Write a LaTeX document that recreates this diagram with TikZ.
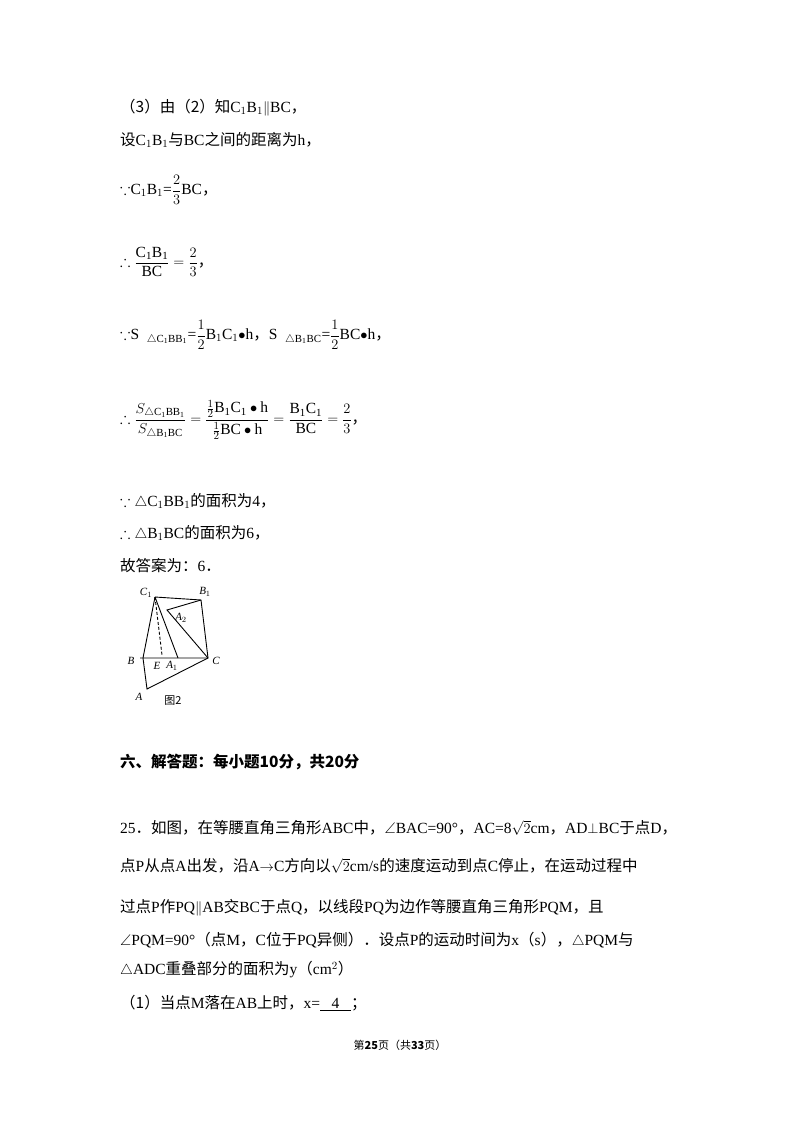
\documentclass[tikz,border=0pt]{standalone}
\usepackage{amssymb}
\usepackage{fontspec}
\setmainfont{Liberation Serif}
\newfontfamily\cjk{Noto Sans CJK SC}
\newcommand{\dou}{{\cjk ，}}
\newcommand{\ju}{{\cjk ．}}
\begin{document}
\begin{tikzpicture}[x=1pt,y=-1pt,
 t/.style={anchor=west,inner sep=0pt,font=\fontsize{15.5}{18}\selectfont},
 lab/.style={inner sep=0pt,font=\fontsize{11}{12}\selectfont\itshape},
 fig/.style={line width=0.9pt}]
\useasboundingbox (0,0) rectangle (800,1132);
\node[t] (l1) at (120,108) {{\cjk（3）由（2）知}C$_1$B$_1$$\|$BC\dou};
\node[t] (l2) at (120,140) {{\cjk 设}C$_1$B$_1${\cjk 与}BC{\cjk 之间的距离为}h\dou};
\node[t] (l3) at (120,190) {$\because$C$_1$B$_1$=$\displaystyle\frac{2}{3}$BC\dou};
\node[t] (l4) at (120,262) {$\displaystyle\therefore\frac{\mathrm{C_1B_1}}{\mathrm{BC}}=\frac{2}{3}$\dou};
\node[t] (l5) at (120,335) {$\because$S\ \ $_{\triangle\mathrm{C_1BB_1}}$=$\displaystyle\frac{1}{2}$B$_1$C$_1$$\bullet$h\dou S\ \ $_{\triangle\mathrm{B_1BC}}$=$\displaystyle\frac{1}{2}$BC$\bullet$h\dou};
\node[t] (l6) at (120,420) {$\displaystyle\therefore\frac{S_{\triangle\mathrm{C_1BB_1}}}{S_{\triangle\mathrm{B_1BC}}}=\frac{\frac12\mathrm{B_1C_1}\bullet\mathrm{h}}{\frac12\mathrm{BC}\bullet\mathrm{h}}=\frac{\mathrm{B_1C_1}}{\mathrm{BC}}=\frac{2}{3}$\dou};
\node[t] (l7) at (120,501) {$\because\triangle$C$_1$BB$_1${\cjk 的面积为}4\dou};
\node[t] (l8) at (120,533) {$\therefore\triangle$B$_1$BC{\cjk 的面积为}6\dou};
\node[t] (l9) at (120,566) {{\cjk 故答案为：}6\ju};
% figure
\coordinate (C1) at (155,597);
\coordinate (B1) at (201,600);
\coordinate (A2) at (167,610);
\coordinate (C) at (208,658);
\coordinate (B) at (140,658);
\coordinate (Bq) at (143,658);
\coordinate (A) at (147,689);
\coordinate (E) at (162,655);
\coordinate (A1) at (178,658);
\draw[fig] (C1)--(B1)--(C)--(B);
\draw[fig] (C1)--(Bq);
\draw[fig] (C1)--(A1);
\draw[fig] (B1)--(A2)--(C);
\draw[fig] (Bq)--(A)--(C);
\draw[fig,densely dashed] (C1)--(E);
\node[lab] (nC1) at (146,593) {C$_1$};
\node[lab] (nB1) at (205,592) {B$_1$};
\node[lab] (nA2) at (181,618) {A$_2$};
\node[lab] (nB) at (131,661) {B};
\node[lab] (nE) at (157,666) {E};
\node[lab] (nA1) at (172,666) {A$_1$};
\node[lab] (nC) at (216,661) {C};
\node[lab] (nA) at (139,697) {A};
\node[inner sep=0pt,font=\fontsize{11}{12}\selectfont\cjk] (cap) at (173,701) {图2};
\node[t] (h6) at (120,762) {\cjk\bfseries 六、解答题：每小题10分，共20分};
\node[t] (p1) at (120,828) {25\ju{\cjk 如图，在等腰直角三角形}ABC{\cjk 中，}$\angle$BAC=90°\dou AC=8$\sqrt{2}$cm\dou AD$\perp$BC{\cjk 于点}D\dou};
\node[t] (p2) at (120,866) {{\cjk 点}P{\cjk 从点}A{\cjk 出发，沿}A$\to$C{\cjk 方向以}$\sqrt{2}$cm/s{\cjk 的速度运动到点}C{\cjk 停止，在运动过程中}};
\node[t] (p3) at (120,908) {{\cjk 过点}P{\cjk 作}PQ$\|$AB{\cjk 交}BC{\cjk 于点}Q\dou{\cjk 以线段}PQ{\cjk 为边作等腰直角三角形}PQM\dou{\cjk 且}};
\node[t] (p4) at (120,940) {$\angle$PQM=90°{\cjk（点}M\dou C{\cjk 位于}PQ{\cjk 异侧）．设点}P{\cjk 的运动时间为}x{\cjk（}s{\cjk ），}$\triangle$PQM{\cjk 与}};
\node[t] (p5) at (120,970) {$\triangle$ADC{\cjk 重叠部分的面积为}y{\cjk（}cm$^2${\cjk ）}};
\node[t] (p6) at (120,1003) {{\cjk（1）当点}M{\cjk 落在}AB{\cjk 上时，}x=\underline{\ \ \ 4\ \ \ }{\cjk ；}};
\node[anchor=center,inner sep=0pt,font=\fontsize{11}{12}\selectfont\cjk] (ft) at (400,1045) {第\textbf{25}页（共\textbf{33}页）};
\end{tikzpicture}
\end{document}
